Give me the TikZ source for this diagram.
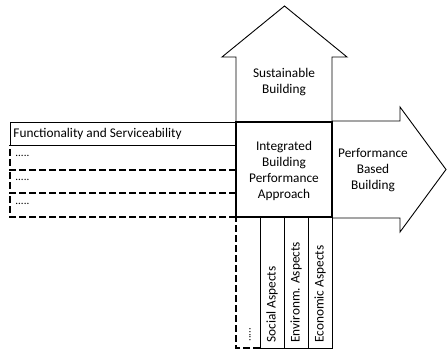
\documentclass[tikz,border=0pt]{standalone}
\usepackage{fontspec}
\setmainfont{Carlito}
\begin{document}
\begin{tikzpicture}[x=1pt,y=-1pt,line width=0.9pt,
  lbl/.style={font=\fontsize{13.3}{16}\selectfont,align=center,inner sep=0pt},
  rowtxt/.style={font=\fontsize{13.3}{16}\selectfont,anchor=west,inner sep=0pt},
  dottxt/.style={font=\fontsize{11}{13}\selectfont,anchor=west,inner sep=0pt},
  coltxt/.style={font=\fontsize{13.3}{16}\selectfont,rotate=90,anchor=west,inner sep=0pt},
  coldot/.style={font=\fontsize{11}{13}\selectfont,rotate=90,anchor=west,inner sep=0pt},
  dsh/.style={line width=1.2pt,dash pattern=on 7pt off 3pt},
  corebox/.style={draw,line width=2.6pt,minimum width=96pt,minimum height=95pt,inner sep=0pt,outer sep=0pt}]
\useasboundingbox (0,0) rectangle (447,352);
% arrows
\draw (236,122) -- (236,57) -- (222,57) -- (284.5,6) -- (347,57) -- (332,57) -- (332,122);
\draw (332,121) -- (400,121) -- (400,107) -- (446,169.5) -- (400,232) -- (400,218) -- (332,218);
% left rows
\draw (10,122) rectangle (236,145);
\draw[dsh] (236,170) -- (10,170) -- (10,145);
\draw[dsh] (236,193) -- (10,193) -- (10,170);
\draw[dsh] (236,217) -- (10,217) -- (10,193);
% bottom columns
\draw (260,217) -- (260,348) -- (332,348) -- (332,217);
\draw (284,217) -- (284,348);
\draw (308,217) -- (308,348);
\draw[dsh] (260,348) -- (236,348) -- (236,217);
% central box
\node[corebox] (core) at (284,169.5) {};
\node[lbl] (ibpa) at (284,170.5) {Integrated\\Building\\Performance\\Approach};
\node[lbl] (sust) at (284,82.5) {Sustainable\\Building};
\node[lbl] (pbb) at (373,170.5) {Performance\\Based\\Building};
% row texts
\node[rowtxt] (fs) at (13,133.5) {Functionality and Serviceability};
\node[dottxt] (r2) at (15,156) {.....};
\node[dottxt] (r3) at (15,180) {.....};
\node[dottxt] (r4) at (15,204) {.....};
% column texts
\node[coldot] (c0) at (250,342) {.....};
\node[coltxt] (c1) at (272,343) {Social Aspects};
\node[coltxt] (c2) at (296,343) {Environm. Aspects};
\node[coltxt] (c3) at (320,343) {Economic Aspects};
\end{tikzpicture}
\end{document}
